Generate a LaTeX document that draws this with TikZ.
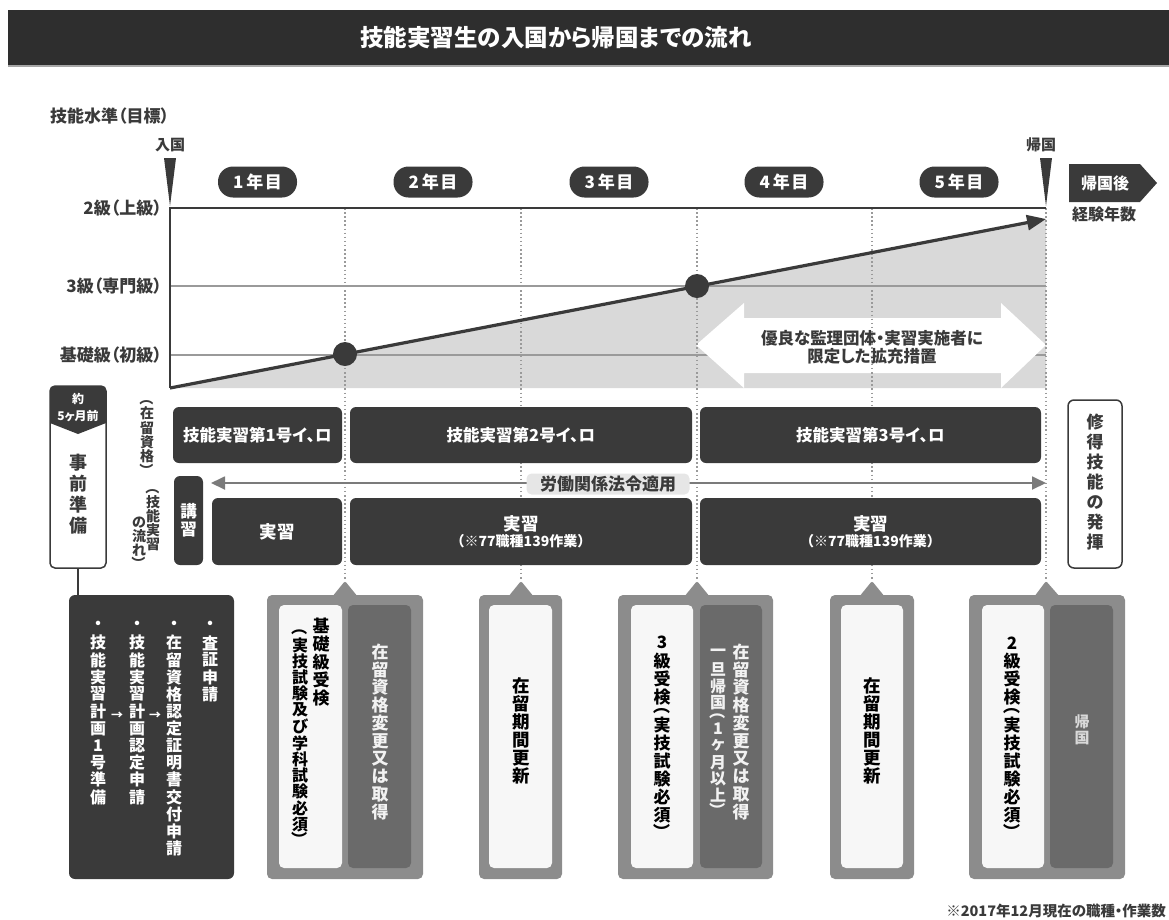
\documentclass[tikz,border=0pt]{standalone}
\usepackage{fontspec}
\usepackage{graphicx}
\setmainfont{Noto Sans CJK JP}[RawFeature=+palt]
\newfontfamily\jpfull{Noto Sans CJK JP}
\usetikzlibrary{arrows.meta,calc}
\definecolor{dk}{HTML}{3A3A3A}
\definecolor{bar}{HTML}{2E2E2E}
\definecolor{callout}{HTML}{8C8C8C}
\definecolor{calldk}{HTML}{6A6A6A}
\definecolor{fillgray}{HTML}{D9D9D9}
\definecolor{gridgray}{HTML}{9A9A9A}
\definecolor{lbl}{HTML}{E6E6E6}
\newcommand\vpo{}
\newcommand\vpc{}
\ExplSyntaxOn
\cs_new:Npn \vtslot:nn #1#2
  { \hbox_to_wd:nn {1em} { \hss \vbox_to_ht:nn {#1em} { \vss \hbox:n {#2} \vss } \hss } }
\NewDocumentCommand\vt{O{1.06}m}{
  \vbox:n { \offinterlineskip
    \tl_map_inline:nn {#2}
      {
        \tl_if_eq:nnTF {##1} {\vpo}
          { \vtslot:nn {0.6} { \rotatebox[origin=c]{-90}{（} } }
          {
            \tl_if_eq:nnTF {##1} {\vpc}
              { \vtslot:nn {0.6} { \rotatebox[origin=c]{-90}{）} } }
              { \vtslot:nn {#1} {##1} }
          }
      }
  }
}
\ExplSyntaxOff
\newcommand\fs[1]{\fontsize{#1}{#1}\selectfont}
\tikzset{
  box/.style={fill=dk, rounded corners=6, inner sep=0pt, text=white, font=\bfseries\fs{16.5}},
  pill/.style={fill=dk, rounded corners=15, minimum width=79, minimum height=31, inner sep=0pt, text=white, font=\bfseries\fs{17}},
  lvl/.style={anchor=east, inner sep=0pt, text=dk, font=\bfseries\fs{17}},
  dotline/.style={draw=gridgray, line width=2, dash pattern=on 1.5 off 2.6},
  callbox/.style={fill=callout, rounded corners=5, inner sep=0pt},
  whitein/.style={fill=white!97!black, rounded corners=5, inner sep=0pt},
  darkin/.style={fill=calldk, rounded corners=5, inner sep=0pt},
  vlab/.style={inner sep=0pt, font=\bfseries\fs{16.5}},
}
\begin{document}
\begin{tikzpicture}[x=1pt,y=-1pt]
\useasboundingbox (0,0) rectangle (1169,919);
% title
\fill[gray!70] (8,10) rectangle (1169,67);
\node[fill=bar, minimum width=1161, minimum height=55, inner sep=0pt, anchor=north west] (titlebar) at (8,10) {};
\node[text=white, font=\bfseries\fs{23.5}] (title) at (556,38) {技能実習生の入国から帰国までの流れ};
% axis caption
\node[anchor=west, inner sep=0pt, text=dk, font=\bfseries\fs{17}] (ylab) at (50,116) {技能水準（目標）};
% chart coordinates
\coordinate (O) at (170,388);
\coordinate (TL) at (170,208);
\coordinate (TR) at (1046,208);
\coordinate (BR) at (1046,388);
\coordinate (tip) at (1046,219);
% fill
\fill[fillgray] (O) -- (tip) -- (BR) -- cycle;
\draw[gridgray, line width=1.8] (170,286) -- (1046,286);
\draw[gridgray, line width=1.8] (170,355) -- (1046,355);
% white double arrow
\fill[white] (696,345) -- (744,303) -- (744,318) -- (1001,318) -- (1001,303) -- (1046,345) -- (1001,388) -- (1001,373) -- (744,373) -- (744,388) -- cycle;
\node[text=dk, font=\bfseries\fs{16.5}, align=center, inner sep=0pt] (ext) at (872,347) {優良な監理団体・実習実施者に\\[1pt]限定した拡充措置};
% dotted lines
\coordinate (pA) at (345,581);
\coordinate (pB) at (521,581);
\coordinate (pC) at (697,581);
\coordinate (pD) at (872,581);
\coordinate (pE) at (1046,581);
\draw[dotline] (345,208) -- (pA);
\draw[dotline] (521,208) -- (pB);
\draw[dotline] (697,208) -- (pC);
\draw[dotline] (872,208) -- (pD);
\draw[dotline] (1046,208) -- (pE);
% frame
\draw[dk, line width=2.5] (O) -- (TL) -- (TR);
% main arrow
\draw[dk, line width=3.2, -{Triangle[length=19,width=15]}] (O) -- (tip);
\node[circle, fill=dk, minimum size=24, inner sep=0pt] (c1) at (345,354) {};
\node[circle, fill=dk, minimum size=24, inner sep=0pt] (c2) at (697,286) {};
% level labels
\node[lvl] (l2) at (162,208) {2級（上級）};
\node[lvl] (l3) at (162,286) {3級（専門級）};
\node[lvl] (l1) at (162,355) {基礎級（初級）};
% entry / return markers
\node[text=dk, font=\bfseries\fs{15}, inner sep=0pt] (nyu) at (170,145) {入国};
\fill[dk] (164,158) -- (176,158) -- (170,206) -- cycle;
\node[text=dk, font=\bfseries\fs{15}, inner sep=0pt] (kik) at (1041,145) {帰国};
\fill[dk] (1040,158) -- (1052,158) -- (1046,206) -- cycle;
% after-return arrow
\fill[dk] (1069,164) -- (1140,164) -- (1157,183) -- (1140,202) -- (1069,202) -- cycle;
\node[text=white, font=\bfseries\fs{16}, inner sep=0pt] (kikgo) at (1105,183) {帰国後};
\node[text=dk, font=\bfseries\fs{16}, inner sep=0pt] (keiken) at (1104,214) {経験年数};
% year pills
\node[pill] (y1) at (257.5,182) {1\kern3pt年\kern1.5pt目};
\node[pill] (y2) at (433,182) {2\kern3pt年\kern1.5pt目};
\node[pill] (y3) at (609,182) {3\kern3pt年\kern1.5pt目};
\node[pill] (y4) at (784,182) {4\kern3pt年\kern1.5pt目};
\node[pill] (y5) at (959,182) {5\kern3pt年\kern1.5pt目};
% row 1: status of residence
\node[box, minimum width=169, minimum height=56] (s1) at (257.5,435) {技能実習第1号イ、ロ};
\node[box, minimum width=342, minimum height=56] (s2) at (521,435) {技能実習第2号イ、ロ};
\node[box, minimum width=341, minimum height=56] (s3) at (870.5,435) {技能実習第3号イ、ロ};
\node[inner sep=0pt, text=dk, font=\bfseries\fs{14}] (zairyu) at (147,435) {\vt[1.03]{{\vpo}在留資格{\vpc}}};
% labour law arrow
\coordinate (lawL) at (211,483);
\coordinate (lawR) at (1046,483);
\draw[gridgray!80!black, line width=1.8, {Triangle[length=14,width=13]}-{Triangle[length=14,width=13]}] (lawL) -- (lawR);
\node[fill=lbl, rounded corners=5, text=dk, font=\bfseries\fs{17}, minimum width=163, minimum height=21, inner sep=0pt] (law) at (608,484) {労働関係法令適用};
% row 3: flow
\node[box, minimum width=29, minimum height=89] (ko) at (188.5,520.5) {\vt[1.1]{講習}};
\node[box, minimum width=130, minimum height=67, font=\bfseries\fs{17.5}] (j1) at (277,531.5) {実習};
\node[box, minimum width=342, minimum height=67, align=center, font=\bfseries\fs{17.5}] (j2) at (521,531.5) {実習\\[-1pt]{\jpfull\bfseries\fs{14}（※77職種139作業）}};
\node[box, minimum width=341, minimum height=67, align=center, font=\bfseries\fs{17.5}] (j3) at (870.5,531.5) {実習\\[-1pt]{\jpfull\bfseries\fs{14}（※77職種139作業）}};
\node[inner sep=0pt, text=dk, font=\bfseries\fs{14}, anchor=north] (flowa) at (153,487) {\vt[1.0]{{\vpo}技能実習}};
\node[inner sep=0pt, text=dk, font=\bfseries\fs{14}, anchor=north] (flowb) at (139,515) {\vt[1.0]{の流れ{\vpc}}};
% preparation box
\node[draw=dk, line width=1.5, fill=white, rounded corners=5, minimum width=56, minimum height=182, inner sep=0pt] (prep) at (78,477) {};
\fill[dk] (50,423) [rounded corners=5]-- (50,386) -- (106,386) [sharp corners]-- (106,423) -- (78,434) -- cycle;
\node[text=white, font=\bfseries\fs{12}, inner sep=0pt] (yaku) at (78,399) {約};
\node[text=white, font=\bfseries\fs{12}, inner sep=0pt] (gokagetsu) at (78,416) {5ヶ月前};
\node[vlab, text=dk, font=\bfseries\fs{18}] (jizen) at (78,494) {\vt[1.17]{事前準備}};
% right box
\node[draw=dk, line width=1.5, fill=white, rounded corners=6, minimum width=54, minimum height=168, inner sep=0pt] (shutoku) at (1095,484) {};
\node[vlab, text=dk, font=\bfseries\fs{17}] (shutokut) at (1095,482) {\vt[1.18]{修得技能の発揮}};
% steps box
\node[fill=dk, rounded corners=6, minimum width=165, minimum height=284, inner sep=0pt] (steps) at (151.5,737) {};
\draw[dk, line width=1.5] (prep.south) -- (prep.south |- steps.north);
\node[anchor=north, inner sep=0pt, text=white, font=\bfseries\fs{16}] (st4) at (210,617) {\vt[1.07]{・査証申請}};
\node[anchor=north, inner sep=0pt, text=white, font=\bfseries\fs{16}] (st3) at (174,617) {\vt[1.07]{・在留資格認定証明書交付申請}};
\node[anchor=north, inner sep=0pt, text=white, font=\bfseries\fs{16}] (st2) at (137,617) {\vt[1.07]{・技能実習計画認定申請}};
\node[anchor=north, inner sep=0pt, text=white, font=\bfseries\fs{16}] (st1) at (98,617) {\vt[1.07]{・技能実習計画1号準備}};
\node[text=white, font=\bfseries\fs{12}, inner sep=0pt] (ar1) at (117,716) {→};
\node[text=white, font=\bfseries\fs{12}, inner sep=0pt] (ar2) at (155,716) {→};
% callout A
\node[callbox, minimum width=156, minimum height=284] (cA) at (345,737) {};
\fill[callout, rounded corners=2] (332,597) -- (pA) -- (358,597) -- cycle;
\node[whitein, minimum width=63, minimum height=263] (cAw) at (310.5,736.5) {};
\node[darkin, minimum width=63, minimum height=263] (cAd) at (379.5,736.5) {};
\node[vlab, anchor=north, text=black, font=\bfseries\fs{17}] (cAt1) at (321,617) {\vt[1.06]{基礎級受検}};
\node[vlab, anchor=north, text=black, font=\bfseries\fs{16}] (cAt2) at (300,627) {\vt[1.02]{{\vpo}実技試験及び学科試験必須{\vpc}}};
\node[vlab, text=white!95!black, font=\bfseries\fs{17}] (cAt3) at (380,732) {\vt[1.05]{在留資格変更又は取得}};
% callout B
\node[callbox, minimum width=83, minimum height=284] (cB) at (520.5,737) {};
\fill[callout, rounded corners=2] (508,597) -- (pB) -- (534,597) -- cycle;
\node[whitein, minimum width=63, minimum height=263] (cBw) at (520.5,736.5) {};
\node[vlab, text=black, font=\bfseries\fs{17.5}] (cBt) at (521,731) {\vt[1.03]{在留期間更新}};
% callout C
\node[callbox, minimum width=155, minimum height=284] (cC) at (695.5,737) {};
\fill[callout, rounded corners=2] (684,597) -- (pC) -- (710,597) -- cycle;
\node[whitein, minimum width=62, minimum height=263] (cCw) at (662,736.5) {};
\node[darkin, minimum width=62, minimum height=263] (cCd) at (731,736.5) {};
\node[vlab, text=black, font=\bfseries\fs{17}] (cCt1) at (662,734) {\vt[1.06]{3級受検{\vpo}実技試験必須{\vpc}}};
\node[vlab, text=white!95!black, font=\bfseries\fs{17}] (cCt2) at (741,732) {\vt[1.05]{在留資格変更又は取得}};
\node[vlab, text=white!95!black, font=\bfseries\fs{16}] (cCt3) at (718,729) {\vt[1.04]{一旦帰国{\vpo}1ヶ月以上{\vpc}}};
% callout D
\node[callbox, minimum width=84, minimum height=284] (cD) at (872,737) {};
\fill[callout, rounded corners=2] (859,597) -- (pD) -- (885,597) -- cycle;
\node[whitein, minimum width=62, minimum height=263] (cDw) at (872,736.5) {};
\node[vlab, text=black, font=\bfseries\fs{17.5}] (cDt) at (872,731) {\vt[1.03]{在留期間更新}};
% callout E
\node[callbox, minimum width=156, minimum height=284] (cE) at (1047,737) {};
\fill[callout, rounded corners=2] (1034,597) -- (pE) -- (1060,597) -- cycle;
\node[whitein, minimum width=62, minimum height=263] (cEw) at (1013,736.5) {};
\node[darkin, minimum width=63, minimum height=263] (cEd) at (1081.5,736.5) {};
\node[vlab, text=black, font=\bfseries\fs{17}] (cEt1) at (1012,734) {\vt[1.06]{2級受検{\vpo}実技試験必須{\vpc}}};
\node[vlab, text=white!85!black, font=\bfseries\fs{15}] (cEt2) at (1082,730) {\vt[1.1]{帰国}};
% footnote
\node[anchor=east, inner sep=0pt, text=dk, font=\bfseries\fs{14.5}] (foot) at (1166,911) {※2017年12月現在の職種・作業数};
\end{tikzpicture}
\end{document}
